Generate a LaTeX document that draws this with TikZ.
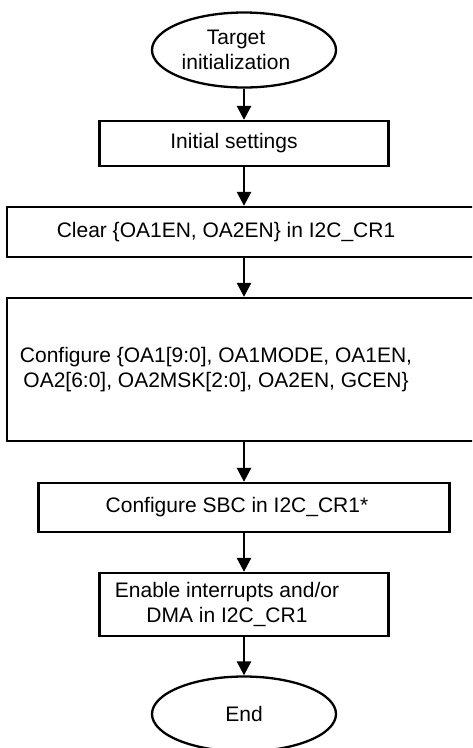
\documentclass[tikz,border=0pt]{standalone}
\usepackage{fontspec}
\setmainfont{Liberation Sans}
\usetikzlibrary{shapes.geometric,arrows.meta}
\tikzset{
  flowbox/.style={draw,line width=2.3pt,rectangle,inner sep=0pt},
  flowend/.style={draw,line width=2.3pt,ellipse,inner sep=0pt,
    minimum width=184pt,minimum height=75pt},
  flowtxt/.style={align=center,inner sep=0pt,font=\fontsize{21}{25.5}\selectfont},
  flowarr/.style={line width=2.6pt,-{Triangle[width=14pt,length=14pt]}}
}
\begin{document}
\begin{tikzpicture}[x=1pt,y=-1pt]
   \useasboundingbox (0,0) rectangle (472,748);
   \clip (0,0) rectangle (472,748);
   \node[flowend,label={[flowtxt,xshift=-8pt]center:{Target\\initialization}}] (start) at (244,50) {};
   \node[flowbox,minimum width=289pt,minimum height=45pt,
      label={[flowtxt,xshift=-10pt]center:Initial settings}] (init) at (244,143.5) {};
   \node[flowbox,minimum width=474pt,minimum height=50pt,
      label={[flowtxt,xshift=-18pt]center:Clear \{OA1EN, OA2EN\} in I2C\_CR1}] (clear) at (244,232) {};
   \node[flowbox,minimum width=474pt,minimum height=143pt,
      label={[flowtxt,xshift=-28pt]center:{Configure \{OA1[9:0], OA1MODE, OA1EN,\\OA2[6:0], OA2MSK[2:0], OA2EN, GCEN\}}}] (config) at (244,369.5) {};
   \node[flowbox,minimum width=411pt,minimum height=49pt,
      label={[flowtxt,xshift=-7pt]center:Configure SBC in I2C\_CR1*}] (sbc) at (244,507.5) {};
   \node[flowbox,minimum width=289pt,minimum height=63pt,
      label={[flowtxt,xshift=-17pt]center:{Enable interrupts and/or\\DMA in I2C\_CR1}}] (irq) at (244,604.5) {};
   \node[flowend,label={[flowtxt]center:End}] (stop) at (244,714) {};
   \draw[flowarr] (start) -- (init);
   \draw[flowarr] (init) -- (clear);
   \draw[flowarr] (clear) -- (config);
   \draw[flowarr] (config) -- (sbc);
   \draw[flowarr] (sbc) -- (irq);
   \draw[flowarr] (irq) -- (stop);
\end{tikzpicture}
\end{document}
